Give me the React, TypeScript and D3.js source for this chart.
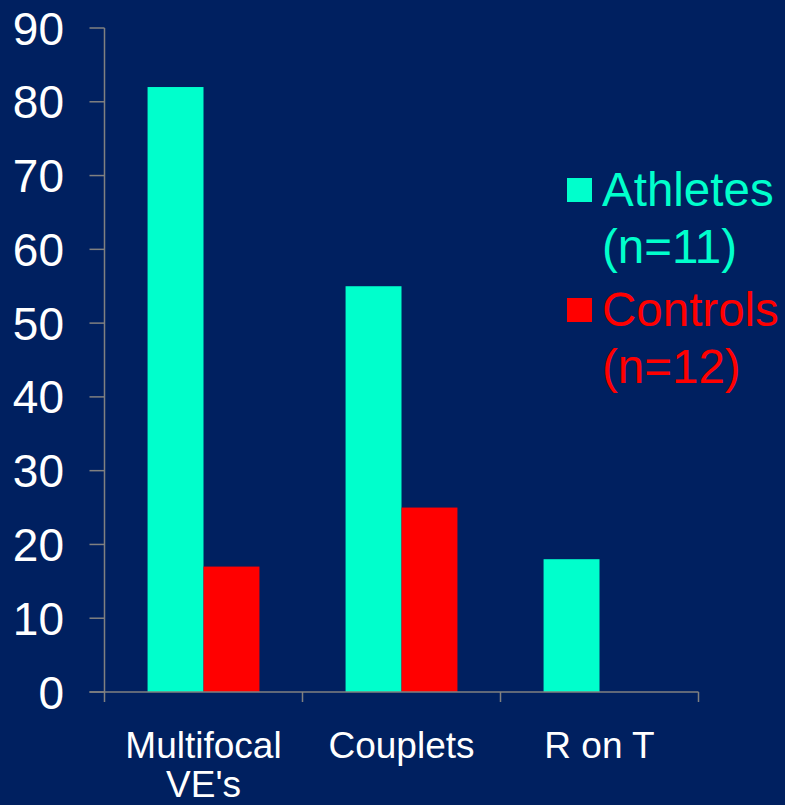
import React from "react";
import * as d3 from "d3";

// Percentage of subjects with each arrhythmia type
const categories = ["Multifocal VE's", "Couplets", "R on T"];
const categoryLines = [["Multifocal", "VE's"], ["Couplets"], ["R on T"]];
const seriesNames = ["Athletes", "Controls"];
const seriesSizes = ["(n=11)", "(n=12)"];
const athletes = [82, 55, 18];
const controls = [17, 25, 0];
const yTicks = [0, 10, 20, 30, 40, 50, 60, 70, 80, 90];

const W = 785;
const H = 805;
const BG = "#002060";
const AXIS = "#808080";
const COLORS = ["#00FFCC", "#FF0000"];
const FONT = "'Liberation Sans', Arial, Helvetica, sans-serif";

export default function App() {
  const left = 104.5;
  const right = 698.5;
  const top = 28;
  const bottom = 692;

  const x0 = d3.scaleBand<string>().domain(categories).range([left, right]).padding(0);
  const bw = x0.bandwidth();
  const x1 = d3
    .scaleBand<string>()
    .domain(seriesNames)
    .range([bw * 0.2175, bw * 0.7825])
    .padding(0);
  const y = d3.scaleLinear().domain([0, 90]).range([bottom, top]);

  const series = [athletes, controls];

  return (
    <svg
      width={W}
      height={H}
      style={{ position: "fixed", left: 0, top: 0, display: "block" }}
    >
      <rect x={0} y={0} width={W} height={H} fill={BG} />

      {/* bars */}
      {categories.map((c, ci) =>
        seriesNames.map((s, si) => {
          const v = series[si][ci];
          if (!v) return null;
          return (
            <rect
              key={c + s}
              x={(x0(c) as number) + (x1(s) as number)}
              y={y(v)}
              width={x1.bandwidth()}
              height={y(0) - y(v)}
              fill={COLORS[si]}
            />
          );
        })
      )}

      {/* y axis */}
      <line x1={left} x2={left} y1={y(90)} y2={y(0)} stroke={AXIS} strokeWidth={1.5} />
      {yTicks.map((t) => (
        <g key={t}>
          <line x1={left - 15} x2={left} y1={y(t)} y2={y(t)} stroke={AXIS} strokeWidth={1.5} />
          <text
            x={64}
            y={y(t)}
            dy="0.36em"
            textAnchor="end"
            fill="#FFFFFF"
            fontFamily={FONT}
            fontSize={46}
          >
            {t}
          </text>
        </g>
      ))}

      {/* x axis */}
      <line x1={left - 15} x2={right} y1={y(0)} y2={y(0)} stroke={AXIS} strokeWidth={1.5} />
      {[...categories.map((c) => x0(c) as number), right].map((xv, i) => (
        <line key={i} x1={xv} x2={xv} y1={y(0)} y2={y(0) + 10} stroke={AXIS} strokeWidth={1.5} />
      ))}
      {categories.map((c, ci) => (
        <text
          key={c}
          x={(x0(c) as number) + bw / 2}
          y={758}
          textAnchor="middle"
          fill="#FFFFFF"
          fontFamily={FONT}
          fontSize={37}
        >
          {categoryLines[ci].map((ln, li) => (
            <tspan key={li} x={(x0(c) as number) + bw / 2} dy={li === 0 ? 0 : 39}>
              {ln}
            </tspan>
          ))}
        </text>
      ))}

      {/* legend */}
      {seriesNames.map((s, si) => {
        const base = 206 + si * 120;
        return (
          <g key={s}>
            <rect x={567} y={base - 28} width={25} height={24} fill={COLORS[si]} />
            <text x={602} y={base} fill={COLORS[si]} fontFamily={FONT} fontSize={47.5}>
              {s}
            </text>
            <text x={602} y={base + 57} fill={COLORS[si]} fontFamily={FONT} fontSize={47.5}>
              {seriesSizes[si]}
            </text>
          </g>
        );
      })}
    </svg>
  );
}
